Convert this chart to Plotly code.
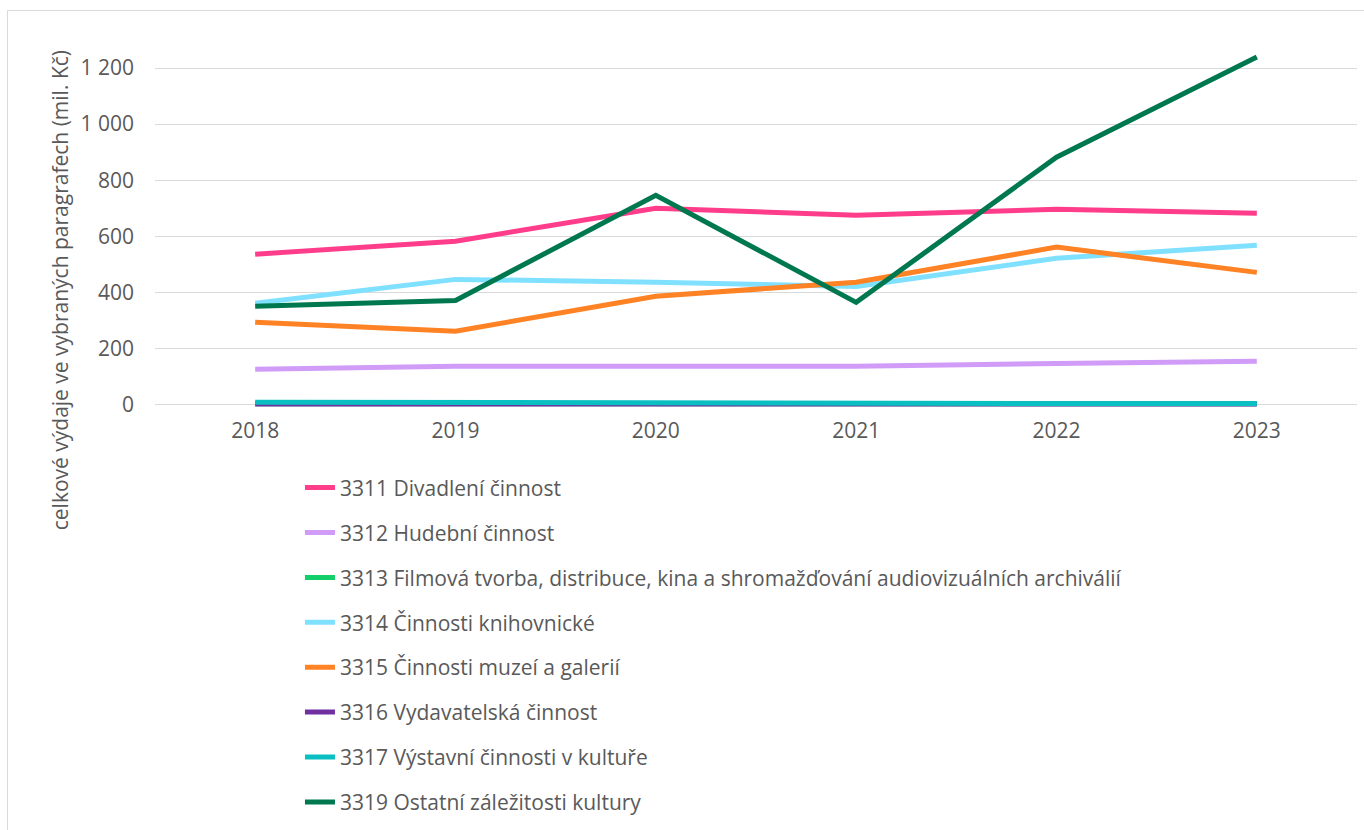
import plotly.graph_objects as go

years = ["2018", "2019", "2020", "2021", "2022", "2023"]

names = [
    "3311 Divadlení činnost",
    "3312 Hudební činnost",
    "3313 Filmová tvorba, distribuce, kina a shromažďování audiovizuálních archiválií",
    "3314 Činnosti knihovnické",
    "3315 Činnosti muzeí a galerií",
    "3316 Vydavatelská činnost",
    "3317 Výstavní činnosti v kultuře",
    "3319 Ostatní záležitosti kultury",
]

s3311 = [536, 582, 700, 675, 696, 682]
s3312 = [125, 136, 136, 136, 146, 154]
s3313 = [2, 2, 2, 2, 2, 2]
s3314 = [361, 446, 436, 421, 521, 568]
s3315 = [293, 261, 386, 436, 561, 471]
s3316 = [1, 1, 1, 1, 1, 1]
s3317 = [8, 6, 6, 5, 3, 3]
s3319 = [350, 371, 746, 364, 882, 1239]

series = [s3311, s3312, s3313, s3314, s3315, s3316, s3317, s3319]
colors = ["#FF3D8B", "#D09CF8", "#12CF6A", "#80E0FF", "#FF8224",
          "#7030A0", "#0ABFC2", "#00784F"]

FONT = "Open Sans"
TXT = "#595959"
FS = 21

fig = go.Figure()
for i, (nm, vals, col) in enumerate(zip(names, series, colors)):
    fig.add_trace(go.Scatter(
        x=years, y=vals, name=nm, mode="lines",
        line=dict(color=col, width=5),
        legendgroup=f"g{i}",
    ))

fig.update_layout(
    width=1364, height=830,
    margin=dict(l=155, r=7, t=40, b=420.4, autoexpand=False),
    paper_bgcolor="white", plot_bgcolor="white",
    separators=", ",
    font=dict(family=FONT, size=FS, color=TXT),
    showlegend=True,
    legend=dict(
        orientation="v", x=0.1206, xanchor="left", y=-0.1553, yanchor="top",
        font=dict(family=FONT, size=FS, color=TXT),
        tracegroupgap=14.6, bgcolor="rgba(0,0,0,0)",
    ),
    xaxis=dict(
        type="category", range=[-0.5, 5.5], showgrid=False, showline=False,
        ticks="", zeroline=False, tickfont=dict(size=FS, color=TXT),
        ticklabelstandoff=6,
    ),
    yaxis=dict(
        range=[-20, 1300], dtick=200, tick0=0, tickformat=",d",
        showgrid=True, gridcolor="#D9D9D9", gridwidth=1,
        zeroline=False, showline=False, ticks="",
        tickfont=dict(size=FS, color=TXT), ticklabelstandoff=20,
    ),
    annotations=[dict(
        text="celkové výdaje ve vybraných paragrafech (mil. Kč)",
        xref="paper", yref="paper", x=(60 - 155) / 1202, y=(409.6 - 290) / 369.6,
        textangle=-90, showarrow=False, xanchor="center", yanchor="middle",
        font=dict(family=FONT, size=FS, color=TXT),
    )],
    shapes=[dict(
        type="rect", xref="paper", yref="paper",
        x0=(7.5 - 155) / 1202, x1=1.1, y0=-1.3, y1=(409.6 - 10.5) / 369.6,
        line=dict(color="#D9D9D9", width=1), fillcolor="rgba(0,0,0,0)", layer="below",
    )],
)

fig.write_html("out.html", config={"displayModeBar": False},
               post_script="document.body.style.margin='0';")
